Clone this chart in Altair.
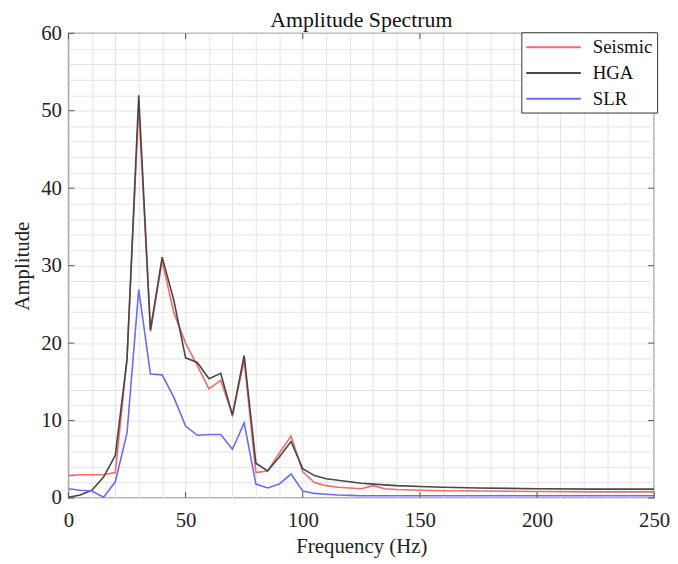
import altair as alt
import pandas as pd

freq = [0, 5, 10, 15, 20, 25, 30, 35, 40, 45, 50, 55, 60, 65, 70, 75, 80, 85, 90, 95, 100,
        105, 110, 115, 120, 125, 130, 135, 140, 150, 160, 175, 200, 225, 250]
seismic = [2.9, 3.0, 3.0, 3.0, 3.3, 18.0, 50.5, 21.5, 30.6, 23.9, 20.0, 17.1, 14.1, 15.2, 10.7, 17.8, 3.3, 3.5, 5.8, 8.0, 3.4,
           2.0, 1.6, 1.4, 1.3, 1.2, 1.6, 1.2, 1.1, 1.0, 0.95, 0.9, 0.85, 0.8, 0.8]
hga = [0.1, 0.4, 1.0, 2.7, 5.5, 17.9, 52.0, 21.7, 31.1, 25.5, 18.1, 17.5, 15.4, 16.1, 10.7, 18.4, 4.5, 3.5, 5.3, 7.3, 3.8,
       2.9, 2.5, 2.3, 2.1, 1.9, 1.8, 1.7, 1.6, 1.5, 1.4, 1.3, 1.2, 1.15, 1.15]
slr = [1.2, 1.0, 0.9, 0.1, 2.1, 8.4, 26.9, 16.0, 15.9, 13.0, 9.3, 8.1, 8.2, 8.2, 6.3, 9.7, 1.8, 1.3, 1.8, 3.1, 0.9,
       0.6, 0.5, 0.4, 0.35, 0.3, 0.3, 0.3, 0.3, 0.3, 0.3, 0.3, 0.3, 0.3, 0.3]

series_names = ["Seismic", "HGA", "SLR"]
series_colors = ["#f46a6a", "#474747", "#6a6af6"]

x_ticks = [0, 50, 100, 150, 200, 250]
y_ticks = [0, 10, 20, 30, 40, 50, 60]

W, H = 591, 469
FONT = "Liberation Serif"

rows = []
for name, vals in zip(series_names, [seismic, hga, slr]):
    for f, v in zip(freq, vals):
        rows.append({"freq": f, "amp": v, "series": name, "order": series_names.index(name)})
df = pd.DataFrame(rows)

xscale = alt.Scale(domain=[0, 250], nice=False)
yscale = alt.Scale(domain=[0, 60], nice=False)

xaxis = alt.Axis(title="Frequency (Hz)", values=list(range(0, 251, 10)),
                 labelExpr="datum.value % 50 == 0 ? datum.label : ''",
                 labelOverlap=False, labelBound=False, labelFlush=False,
                 grid=True, ticks=False, domain=False, labelPadding=12,
                 titlePadding=5)
yaxis = alt.Axis(title="Amplitude", values=list(range(0, 61, 2)),
                 labelExpr="datum.value % 10 == 0 ? datum.label : ''",
                 labelOverlap=False, labelBound=False, labelFlush=False,
                 grid=True, ticks=False, domain=False, labelPadding=7,
                 titlePadding=8)

lines = alt.Chart(df).mark_line(strokeWidth=1.6, clip=True).encode(
    x=alt.X("freq:Q", scale=xscale, axis=xaxis),
    y=alt.Y("amp:Q", scale=yscale, axis=yaxis),
    color=alt.Color("series:N",
                    scale=alt.Scale(domain=series_names, range=series_colors),
                    legend=alt.Legend(title=None, orient="none", legendX=457, legendY=-1,
                                      fillColor="white", strokeColor="#333",
                                      symbolType="M-1,0H4.5", symbolStrokeWidth=2,
                                      symbolSize=400, labelFontSize=19, labelFont=FONT,
                                      labelColor="#111", rowPadding=5, padding=4,
                                      labelOffset=46)),
    order=alt.Order("order:Q"),
    detail="series:N",
)

xt = pd.DataFrame({"v": x_ticks})
yt = pd.DataFrame({"v": y_ticks})
tick_color = "#555"
xb = alt.Chart(xt).mark_rule(color=tick_color).encode(x=alt.X("v:Q", scale=xscale, axis=xaxis), y=alt.value(H), y2=alt.value(H - 6))
xtop = alt.Chart(xt).mark_rule(color=tick_color).encode(x=alt.X("v:Q", scale=xscale, axis=xaxis), y=alt.value(0), y2=alt.value(6))
yl = alt.Chart(yt).mark_rule(color=tick_color).encode(y=alt.Y("v:Q", scale=yscale, axis=yaxis), x=alt.value(0), x2=alt.value(6))
yr = alt.Chart(yt).mark_rule(color=tick_color).encode(y=alt.Y("v:Q", scale=yscale, axis=yaxis), x=alt.value(W), x2=alt.value(W - 6))

chart = alt.layer(lines, xb, xtop, yl, yr).properties(
    width=W, height=H,
    title=alt.TitleParams("Amplitude Spectrum", font=FONT, fontSize=22, fontWeight="normal",
                          color="#111", offset=4, dy=14),
    autosize=alt.AutoSizeParams(type="none"),
    padding={"left": 61, "top": 23, "right": 16, "bottom": 58},
).configure_view(stroke="#666", strokeWidth=1.4).configure_axis(
    labelFont=FONT, titleFont=FONT, labelFontSize=21, titleFontSize=21,
    titleFontWeight="normal", labelColor="#222", titleColor="#222",
    gridColor="#e4e4e4", gridWidth=1,
)

chart.save("out.html", embed_options={"renderer": "svg", "actions": False})
